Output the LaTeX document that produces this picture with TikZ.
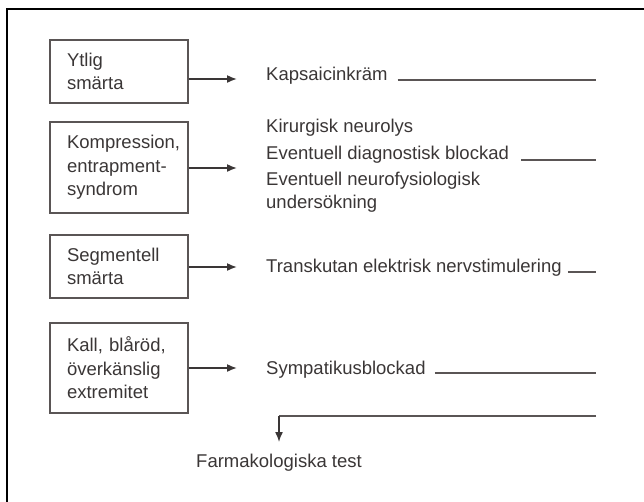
\documentclass[tikz,border=0pt]{standalone}
\usepackage{fontspec}
\setmainfont{Liberation Sans}
\usetikzlibrary{arrows.meta}
\definecolor{ink}{HTML}{3A3636}
\definecolor{rulec}{HTML}{5A5555}
\tikzset{
  every node/.style={font=\fontsize{18.5}{23.5}\selectfont, text=ink},
  box/.style={draw=rulec, line width=1.4pt, rectangle, inner xsep=17pt, inner ysep=0pt,
              text width=#1, align=left},
  lbl/.style={anchor=west, inner sep=0pt},
  arr/.style={draw=ink, line width=1.6pt, -{Latex[length=10pt,width=8pt]}},
  rul/.style={draw=rulec, line width=1.5pt},
  frame/.style={draw=black, line width=2pt}
}
\begin{document}
\begin{tikzpicture}[x=1pt,y=-1pt]
\useasboundingbox (0,0) rectangle (644,501);
% frame (only top and left visible)
\coordinate (f0) at (7,9);
\coordinate (f1) at (660,9);
\coordinate (f2) at (7,520);
\draw[frame] (f1) -- (f0) -- (f2);

% boxes
\node[box=104pt, minimum height=63pt] (b1) at (119,71.5) {Ytlig\\smärta};
\node[box=104pt, minimum height=91pt] (b2) at (119,167.5) {Kompression,\\entrapment-\\syndrom};
\node[box=104pt, minimum height=63pt] (b3) at (119,266.5) {Segmentell\\smärta};
\node[box=104pt, minimum height=90pt] (b4) at (119,368) {Kall, blåröd,\\överkänslig\\extremitet};

% arrow tips
\coordinate (t1) at (237,79);
\coordinate (t2) at (237,168);
\coordinate (t3) at (237,267);
\coordinate (t4) at (237,368);
\draw[arr] (b1.east |- t1) -- (t1);
\draw[arr] (b2.east |- t2) -- (t2);
\draw[arr] (b3.east |- t3) -- (t3);
\draw[arr] (b4.east |- t4) -- (t4);

% right-hand texts
\node[lbl] (r1) at (266,76) {Kapsaicinkräm};
\node[lbl] (r2a) at (266,128) {Kirurgisk neurolys};
\node[lbl] (r2b) at (266,155) {Eventuell diagnostisk blockad};
\node[lbl] (r2c) at (266,181) {Eventuell neurofysiologisk};
\node[lbl] (r2d) at (266,204) {undersökning};
\node[lbl] (r3) at (266,268) {Transkutan elektrisk nervstimulering};
\node[lbl] (r4) at (266,370) {Sympatikusblockad};

% rules to the right edge
\coordinate (e1) at (596,80);
\coordinate (e2) at (596,160);
\coordinate (e3) at (596,272);
\coordinate (e4) at (596,373);
\draw[rul] ([xshift=10pt]r1.east |- e1) -- (e1);
\draw[rul] ([xshift=12pt]r2b.east |- e2) -- (e2);
\draw[rul] ([xshift=6pt]r3.east |- e3) -- (e3);
\draw[rul] ([xshift=9pt]r4.east |- e4) -- (e4);

% return line to pharmacological test
\coordinate (e5) at (596,416);
\coordinate (c5) at (279,416);
\node[inner sep=0pt] (ft) at (279,463) {Farmakologiska test};
\draw[rul] (e5) -- (c5);
\draw[arr, line width=1.5pt] (c5) -- (c5 |- 0,442);
\end{tikzpicture}
\end{document}
